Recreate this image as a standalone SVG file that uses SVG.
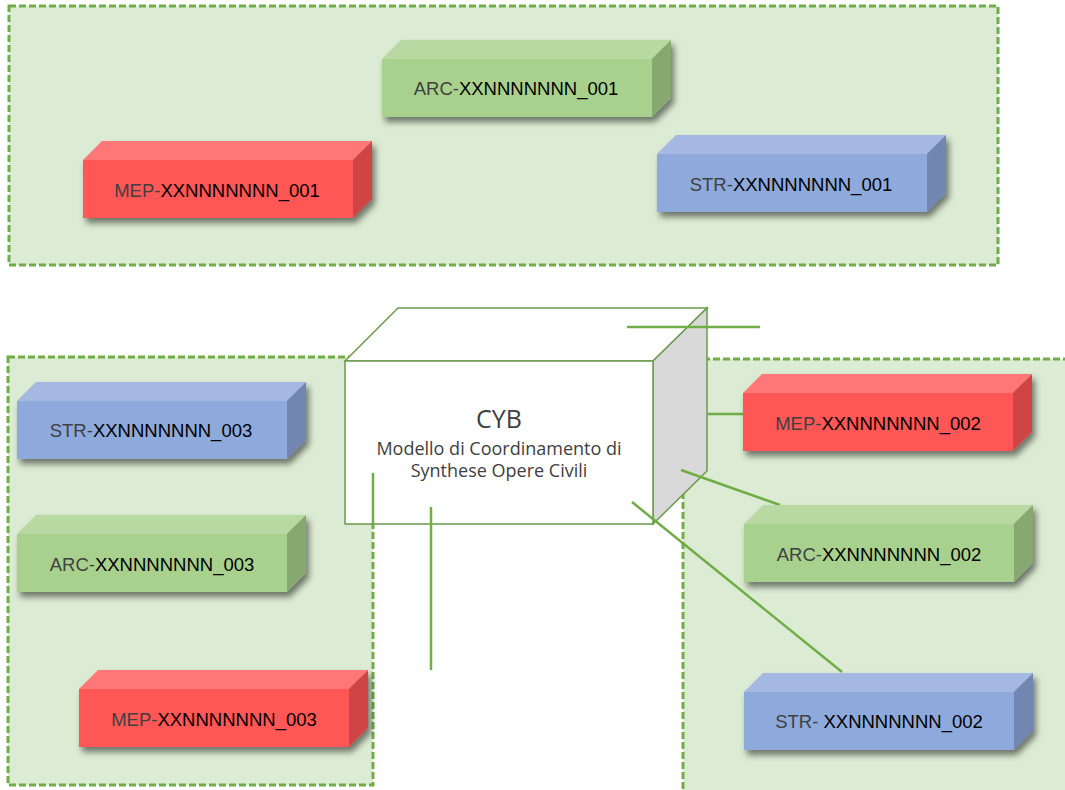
<svg xmlns="http://www.w3.org/2000/svg" xmlns:xlink="http://www.w3.org/1999/xlink" width="1065" height="790" viewBox="0 0 1065 790">
<style>
.region{fill:#dcebd3;stroke:#70ad47;stroke-width:3;stroke-dasharray:7 3}
.conn{stroke:#70ad47;stroke-width:2.5;fill:none}
.lbl{font-family:"Liberation Sans",Arial,sans-serif;font-size:18.5px;text-anchor:middle;fill:#000}
.pre{fill:#404040}
.cyb{font-family:"Open Sans","Liberation Sans",sans-serif;text-anchor:middle;fill:#404040}
</style>
<defs>
<filter id="sh" x="-10%" y="-30%" width="125%" height="170%">
<feDropShadow dx="3" dy="5" stdDeviation="3" flood-color="#000" flood-opacity="0.5"/>
</filter>
<g id="boxMep">
<polygon points="0,0 19,-19 289,-19 270,0" fill="#ff7777"/>
<polygon points="270,0 289,-19 289,39 270,58" fill="#cf4444"/>
<rect x="0" y="0" width="270" height="58" fill="#ff5757"/>
</g>
<g id="boxArc">
<polygon points="0,0 19,-19 289,-19 270,0" fill="#b9d9a3"/>
<polygon points="270,0 289,-19 289,39 270,58" fill="#87a870"/>
<rect x="0" y="0" width="270" height="58" fill="#a9d18e"/>
</g>
<g id="boxStr">
<polygon points="0,0 19,-19 289,-19 270,0" fill="#a4b8e1"/>
<polygon points="270,0 289,-19 289,39 270,58" fill="#7186b0"/>
<rect x="0" y="0" width="270" height="58" fill="#8eaadc"/>
</g>
</defs>
<rect width="1065" height="790" fill="#fff"/>
<g id="regions">
<rect id="region-top" class="region" x="9" y="6" width="989" height="259"/>
<rect id="region-left" class="region" x="8" y="357" width="365" height="428"/>
<rect id="region-right" class="region" x="683" y="359" width="400" height="450"/>
</g>
<g id="cyb">
<polygon points="345,361 398,308 707,308 653,361" fill="#fff" stroke="#6a9a4a" stroke-width="1.5"/>
<polygon points="653,361 707,308 707,471 653,524" fill="#d9d9d9" stroke="#6a9a4a" stroke-width="1.5"/>
<rect x="345" y="361" width="308" height="163" fill="#fff" stroke="#6a9a4a" stroke-width="1.5"/>
<text class="cyb" x="499" y="428" font-size="25">CYB</text>
<text class="cyb" x="499" y="455" font-size="18">Modello di Coordinamento di</text>
<text class="cyb" x="499" y="477" font-size="18">Synthese Opere Civili</text>
</g>
<g id="connectors">
<line class="conn" x1="627" y1="327" x2="760" y2="327"/>
<line class="conn" x1="707" y1="414" x2="743" y2="414"/>
<line class="conn" x1="681" y1="470" x2="780" y2="505"/>
<line class="conn" x1="632" y1="502" x2="842" y2="672"/>
<line class="conn" x1="373" y1="473" x2="373" y2="524"/>
<line class="conn" x1="431" y1="507" x2="431" y2="670"/>
</g>
<g id="arc001" transform="translate(382,59)">
<use xlink:href="#boxArc" href="#boxArc" filter="url(#sh)"/>
<text class="lbl" x="134" y="36"><tspan class="pre">ARC-</tspan>XXNNNNNNN_001</text>
</g>
<g id="mep001" transform="translate(83,160)">
<use xlink:href="#boxMep" href="#boxMep" filter="url(#sh)"/>
<text class="lbl" x="134" y="37"><tspan class="pre">MEP-</tspan>XXNNNNNNN_001</text>
</g>
<g id="str001" transform="translate(657,154)">
<use xlink:href="#boxStr" href="#boxStr" filter="url(#sh)"/>
<text class="lbl" x="134" y="37"><tspan class="pre">STR-</tspan>XXNNNNNNN_001</text>
</g>
<g id="str003" transform="translate(17,401)">
<use xlink:href="#boxStr" href="#boxStr" filter="url(#sh)"/>
<text class="lbl" x="134" y="36"><tspan class="pre">STR-</tspan>XXNNNNNNN_003</text>
</g>
<g id="arc003" transform="translate(17,534)">
<use xlink:href="#boxArc" href="#boxArc" filter="url(#sh)"/>
<text class="lbl" x="135" y="37"><tspan class="pre">ARC-</tspan>XXNNNNNNN_003</text>
</g>
<g id="mep003" transform="translate(79,689)">
<use xlink:href="#boxMep" href="#boxMep" filter="url(#sh)"/>
<text class="lbl" x="135" y="37"><tspan class="pre">MEP-</tspan>XXNNNNNNN_003</text>
</g>
<g id="mep002" transform="translate(743,393)">
<use xlink:href="#boxMep" href="#boxMep" filter="url(#sh)"/>
<text class="lbl" x="135" y="37"><tspan class="pre">MEP-</tspan>XXNNNNNNN_002</text>
</g>
<g id="arc002" transform="translate(744,524)">
<use xlink:href="#boxArc" href="#boxArc" filter="url(#sh)"/>
<text class="lbl" x="135" y="37"><tspan class="pre">ARC-</tspan>XXNNNNNNN_002</text>
</g>
<g id="str002" transform="translate(744,692)">
<use xlink:href="#boxStr" href="#boxStr" filter="url(#sh)"/>
<text class="lbl" x="135" y="36"><tspan class="pre">STR- </tspan>XXNNNNNNN_002</text>
</g>
</svg>
